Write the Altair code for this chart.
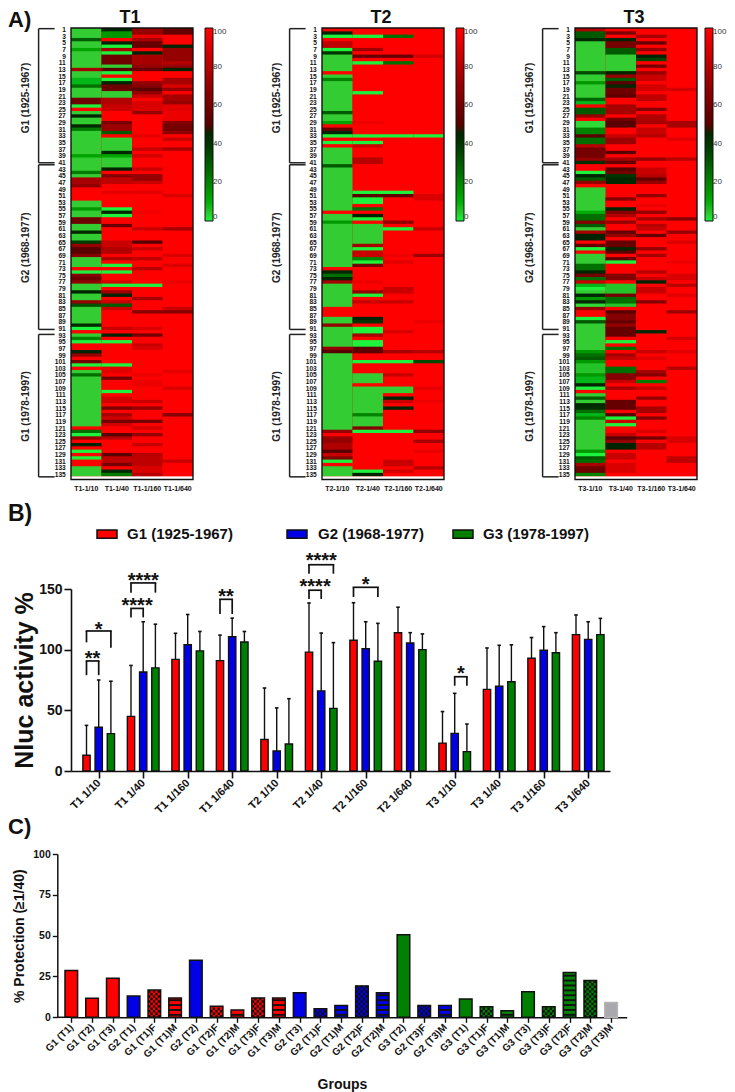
import altair as alt
import pandas as pd

FONT = "Liberation Sans"
RED, BLUE, GREEN = "#ff0000", "#0000e6", "#008000"

# ---------- panel A : (first row, value) runs, each lasting until the next run ----------
T1_10 = [(1,3),(4,30),(5,3),(7,12),(8,3),(13,75),(14,3),(16,8),(18,25),(19,3),(22,58),(24,0),(25,100),(26,3),(27,47),(28,3),(30,45),(31,22),(32,3),(39,12),(40,3),(44,22),(45,3),(46,75),(48,68),(49,100),(53,3),(55,15),(56,3),(58,58),(60,3),(62,45),(63,3),(65,38),(66,70),(67,50),(69,65),(70,3),(73,100),(74,0),(75,65),(76,58),(77,68),(78,3),(80,47),(81,3),(83,70),(84,32),(85,3),(90,45),(91,0),(92,100),(93,3),(94,20),(95,0),(96,100),(98,48),(99,70),(100,100),(101,60),(102,0),(103,100),(104,3),(105,25),(106,3),(121,100),(122,25),(123,0),(124,70),(125,100),(126,47),(127,100),(128,0),(129,100),(130,0),(131,100),(133,3)]
T1_40 = [(1,48),(2,15),(4,100),(5,48),(6,0),(7,75),(8,0),(9,58),(12,3),(13,50),(14,0),(15,100),(16,0),(17,47),(18,58),(20,3),(22,78),(24,85),(26,100),(29,62),(30,72),(32,30),(33,100),(34,3),(38,45),(39,12),(40,3),(43,48),(44,100),(45,65),(46,82),(48,100),(50,93),(51,100),(55,0),(56,45),(57,0),(58,100),(60,55),(61,100),(65,85),(67,78),(69,100),(70,78),(71,100),(72,0),(73,100),(74,0),(75,100),(77,88),(78,0),(79,100),(80,72),(81,48),(82,100),(83,85),(84,30),(85,85),(86,100),(91,85),(92,100),(93,48),(94,100),(95,0),(96,100),(102,0),(103,92),(105,100),(106,60),(107,100),(110,0),(111,100),(112,88),(114,100),(115,62),(116,100),(117,75),(118,88),(119,60),(120,88),(121,100),(123,50),(124,80),(125,100),(129,50),(130,82),(132,60),(133,100),(134,45),(135,22)]
T1_160 = [(1,70),(3,95),(4,75),(5,55),(7,100),(8,48),(9,75),(12,70),(13,55),(14,100),(17,70),(18,65),(19,50),(20,70),(21,85),(22,100),(23,90),(26,70),(27,100),(33,93),(34,100),(37,85),(38,100),(39,88),(40,100),(43,85),(44,100),(45,70),(47,85),(48,100),(50,92),(51,100),(56,97),(57,100),(61,85),(62,100),(65,50),(66,100),(67,85),(68,100),(70,82),(71,100),(73,80),(74,100),(78,0),(79,100),(82,75),(83,100),(86,65),(87,100),(91,90),(92,100),(93,60),(94,100),(96,85),(97,90),(98,100),(105,95),(106,100),(107,95),(109,100),(113,85),(114,100),(115,70),(116,100),(119,60),(120,100),(121,88),(122,100),(123,70),(124,100),(126,85),(127,100),(129,80),(130,82),(133,90),(135,80)]
T1_640 = [(1,55),(3,100),(6,48),(7,70),(11,80),(12,70),(13,48),(14,100),(16,75),(18,90),(19,70),(20,100),(21,75),(23,70),(24,92),(26,95),(29,65),(30,60),(32,68),(33,100),(34,85),(35,100),(37,75),(38,100),(51,90),(52,100),(61,75),(62,100),(69,90),(70,100),(72,90),(73,100),(77,95),(78,100),(85,85),(86,65),(87,100),(104,93),(105,100),(109,90),(110,100),(117,65),(118,100),(131,85),(132,100)]

T2_10 = [(1,100),(2,48),(3,0),(4,100),(5,82),(7,0),(8,40),(9,3),(14,100),(15,3),(16,20),(17,3),(26,30),(27,3),(29,12),(30,100),(31,55),(32,48),(33,0),(34,100),(35,0),(36,100),(37,3),(42,30),(43,3),(56,100),(57,3),(59,15),(60,3),(73,100),(74,45),(75,25),(76,45),(77,75),(78,3),(85,100),(88,3),(90,70),(91,3),(97,70),(98,50),(99,3),(122,70),(123,100),(124,70),(126,78),(128,50),(129,85),(130,65),(131,0),(132,100),(133,3)]
T2_40 = [(1,100),(3,0),(4,100),(7,72),(8,100),(9,55),(10,100),(11,0),(12,100),(20,0),(21,100),(29,95),(30,100),(33,0),(34,100),(35,0),(36,85),(37,100),(40,80),(42,100),(50,0),(51,52),(52,0),(54,100),(55,25),(56,100),(57,48),(58,0),(59,100),(60,3),(66,75),(67,0),(68,85),(69,85),(70,20),(71,0),(72,60),(73,100),(77,95),(78,100),(80,70),(81,0),(82,100),(83,85),(84,100),(88,48),(89,40),(90,100),(91,0),(93,75),(94,100),(95,0),(97,52),(99,100),(101,0),(102,100),(105,3),(108,100),(109,3),(117,20),(118,3),(121,65),(122,0),(123,100),(134,0),(135,48)]
T2_160 = [(1,100),(3,25),(4,100),(9,55),(10,100),(11,25),(12,100),(33,0),(34,100),(50,0),(51,52),(52,100),(59,68),(60,100),(61,0),(62,100),(69,95),(70,100),(71,92),(72,100),(79,85),(81,100),(83,85),(84,100),(92,90),(93,100),(98,75),(99,100),(101,0),(102,100),(105,85),(106,100),(109,3),(111,100),(112,48),(113,85),(114,100),(115,48),(116,100),(122,0),(123,100),(131,85),(133,100),(134,88),(135,100)]
T2_640 = [(1,100),(9,88),(10,100),(33,0),(34,100),(51,90),(53,100),(61,85),(62,100),(69,72),(70,100),(89,95),(90,100),(98,80),(99,100),(101,35),(102,100),(109,93),(110,100),(113,95),(114,100),(122,68),(123,100),(125,75),(126,100),(128,95),(129,100),(133,80),(134,100)]

T3_10 = [(1,80),(2,30),(4,45),(5,3),(14,35),(15,3),(17,15),(18,3),(22,28),(23,8),(24,100),(25,30),(27,70),(28,100),(29,2),(31,20),(33,50),(34,25),(36,80),(37,60),(40,70),(41,42),(42,100),(44,0),(45,48),(46,30),(47,70),(48,100),(49,3),(56,10),(57,25),(59,65),(60,30),(61,3),(62,75),(63,48),(65,100),(66,55),(67,0),(68,100),(69,3),(72,25),(74,48),(75,60),(76,25),(77,85),(78,8),(79,0),(80,3),(81,48),(82,15),(83,45),(84,2),(85,70),(86,100),(88,0),(89,30),(90,3),(98,15),(99,25),(100,30),(101,15),(102,5),(105,15),(106,8),(108,48),(109,0),(110,100),(111,3),(112,30),(113,3),(114,45),(115,42),(116,25),(117,8),(118,20),(119,3),(128,15),(129,0),(130,30),(131,25),(132,75),(133,58),(135,20)]
T3_40 = [(1,100),(2,62),(3,100),(4,48),(5,60),(7,30),(9,3),(14,48),(15,70),(16,30),(17,50),(18,45),(19,58),(21,52),(22,100),(24,75),(27,100),(28,60),(29,50),(31,100),(33,85),(34,72),(36,100),(38,50),(39,100),(40,75),(41,55),(42,100),(43,50),(44,60),(45,40),(46,45),(48,100),(52,65),(53,100),(55,48),(56,65),(57,78),(58,100),(59,70),(60,100),(62,55),(63,70),(64,100),(65,55),(67,45),(68,50),(69,100),(70,55),(71,0),(72,100),(75,65),(77,100),(78,5),(81,60),(82,25),(84,5),(85,100),(86,50),(87,65),(89,55),(90,70),(91,55),(94,100),(95,0),(96,100),(97,25),(98,100),(99,75),(100,85),(101,100),(103,25),(105,65),(107,85),(108,100),(109,75),(110,100),(113,55),(116,100),(117,50),(118,0),(119,85),(120,0),(121,100),(123,85),(124,50),(125,70),(126,48),(128,100),(129,85),(131,100),(132,90),(135,100)]
T3_160 = [(1,100),(3,75),(4,100),(5,55),(6,100),(7,70),(8,100),(9,48),(10,35),(11,100),(12,60),(13,100),(14,70),(15,85),(17,100),(18,88),(20,100),(21,82),(23,100),(25,65),(26,100),(27,78),(29,75),(30,100),(31,85),(33,80),(34,100),(40,70),(41,100),(43,85),(45,80),(46,55),(47,70),(48,100),(51,70),(52,100),(54,95),(55,100),(56,70),(57,100),(58,75),(59,100),(60,80),(61,85),(62,100),(63,55),(64,100),(67,70),(68,100),(69,75),(70,100),(74,80),(75,100),(76,85),(77,48),(78,100),(79,85),(81,100),(83,65),(84,100),(92,45),(93,100),(98,85),(99,100),(100,92),(101,100),(104,75),(105,65),(106,100),(107,22),(108,100),(109,85),(110,100),(112,70),(113,100),(115,75),(117,100),(118,65),(119,100),(122,90),(123,100),(124,60),(125,100),(126,80),(128,100)]
T3_640 = [(1,100),(19,88),(20,100),(29,75),(31,100),(34,92),(35,100),(40,80),(41,100),(58,65),(59,100),(62,70),(63,100),(65,90),(66,100),(71,95),(72,100),(75,90),(77,100),(78,80),(79,100),(81,92),(82,100),(86,72),(87,100),(94,88),(95,100),(98,92),(99,100),(103,80),(104,100),(124,90),(126,100),(130,82),(132,100)]

PANELS = {"T1": [T1_10, T1_40, T1_160, T1_640],
          "T2": [T2_10, T2_40, T2_160, T2_640],
          "T3": [T3_10, T3_40, T3_160, T3_640]}
DILUTIONS = ["1/10", "1/40", "1/160", "1/640"]
BRACKET_ROWS = [("G1 (1925-1967)", 0.7, 41.1, 21.6),
                ("G2 (1968-1977)", 41.7, 91.3, 66.7),
                ("G1 (1978-1997)", 92.8, 135.7, 114.5)]

# ---------- panel B ----------
B_LABELS = ["T1 1/10","T1 1/40","T1 1/160","T1 1/640","T2 1/10","T2 1/40","T2 1/160","T2 1/640","T3 1/10","T3 1/40","T3 1/160","T3 1/640"]
GROUPS = ["G1 (1925-1967)", "G2 (1968-1977)", "G3 (1978-1997)"]
G1_MEAN = [13,45,92,91,26,98,107.7,114,23,67.3,92.9,112.4]
G1_TOP  = [37.6,87,113.5,112,68.4,138.5,138.7,135,49,101.4,110,128.6]
G2_MEAN = [36,81.6,104,110.7,16.5,66,100.8,105.5,31,69.8,99.5,108.5]
G2_TOP  = [75,123,129,126,52,113.7,123,114,64,103.6,119,123]
G3_MEAN = [30.8,85,99,106.3,22.3,51.6,90.4,100,16,73.6,97.5,112.4]
G3_TOP  = [74,121,115,115,59.6,105.8,121.7,113,38.7,104,114,125.8]
# group index, first bar, last bar, top, left foot, right foot, stars, star height
SIG = [(0,0,1,90.7,79,79,"**",95.6),
       (0,0,2,115.4,106,101.6,"*",119.5),
       (1,0,1,134,126.6,126.6,"****",139),
       (1,0,2,155,147,147,"****",160),
       (3,0,1,141.5,129.4,129.4,"**",147),
       (5,0,1,149,141.8,141.8,"****",154.7),
       (5,0,2,170,162.6,162.6,"****",176),
       (6,0,2,151.4,143.4,143.4,"*",156.6),
       (8,1,2,77.7,70.3,70.3,"*",83)]

# ---------- panel C ----------
C_LABELS = ["G1 (T1)","G1 (T2)","G1 (T3)","G2 (T1)","G1 (T1)F","G1 (T1)M","G2 (T2)","G1 (T2)F","G1 (T2)M","G1 (T3)F","G1 (T3)M","G2 (T3)","G2 (T1)F","G2 (T1)M","G2 (T2)F","G2 (T2)M","G3 (T2)","G2 (T3)F","G2 (T3)M","G3 (T1)","G3 (T1)F","G3 (T1)M","G3 (T3)","G3 (T3)F","G3 (T2)F","G3 (T2)M","G3 (T3)M"]
C_VALUES = [28.6,11.6,23.9,13,16.7,11.8,34.9,6.7,4.5,11.8,11.8,15.1,5.3,7.3,19.2,15.1,50.6,7.3,7.3,11.2,6.5,4,15.7,6.5,27.5,22.6,9]
C_FILL = ["r","r","r","b","r","r","b","r","r","r","r","b","b","b","b","b","g","b","b","g","g","g","g","g","g","g","x"]
C_PATTERN = ["","","","","c","s","","c","s","c","s","","c","s","c","s","","c","s","","c","s","","c","s","c",""]

W, H = 122, 451.5
YSCALE = alt.Scale(domain=[0.5, 136.5], reverse=True, nice=False, zero=False)
HEAT_COLORS = alt.Scale(domain=[0, 3, 50, 100], range=["#1df23c", "#33cc33", "#000000", "#ff0000"])
AX_HEAT_Y = alt.Axis(title=None, values=list(range(1, 136, 2)), format="d", ticks=False, domain=False,
                     grid=False, labelFontSize=6.6, labelFontWeight="bold", labelFont=FONT,
                     labelPadding=5.7, labelOverlap=False, labelColor="#111", labelBound=False)
ONE = pd.DataFrame({"a": [0]})

def txt(text, size, **kw):
    return alt.Chart(pd.DataFrame({"t": [text]})).mark_text(
        text=text, fontSize=size, fontWeight="bold", font=FONT, color="#111", **kw)

def heat(name, letter=None, pad_left=None, bar_gap=11.5):
    rows = []
    for dil, runs in zip(DILUTIONS, PANELS[name]):
        for i, (start, val) in enumerate(runs):
            last = i + 1 == len(runs)
            end = 136 if last else runs[i + 1][0]
            rows.append({"dil": f"{name}-{dil}", "r0": start - 0.5, "r1": end - 0.5 + (0 if last else 0.2), "v": val})
    df = pd.DataFrame(rows)
    dom = [f"{name}-{d}" for d in DILUTIONS]
    under = alt.Chart(ONE).mark_rect(fill="#ff0000").encode(
        x=alt.value(0), x2=alt.value(W), y=alt.value(0), y2=alt.value(H * 135 / 136))
    rect = alt.Chart(df).mark_rect().encode(
        x=alt.X("dil:N", sort=None, scale=alt.Scale(domain=dom, paddingInner=0, paddingOuter=0),
                axis=alt.Axis(title=None, labelAngle=0, ticks=False, domain=False, labelFontSize=7,
                              labelFontWeight="bold", labelFont=FONT, labelPadding=5, labelOverlap=False,
                              labelColor="#111")),
        y=alt.Y("r0:Q", scale=YSCALE, axis=AX_HEAT_Y),
        y2="r1:Q",
        color=alt.Color("v:Q", scale=HEAT_COLORS,
                        legend=alt.Legend(title=None, values=[0, 20, 40, 60, 80, 100], gradientLength=193,
                                          gradientThickness=8, gradientStrokeColor="#111", gradientStrokeWidth=1,
                                          labelFontSize=8, labelColor="#333", labelFont=FONT, offset=bar_gap,
                                          labelOffset=0)),
        order=alt.Order("r0:Q"),
    )
    frame = alt.Chart(ONE).mark_rect(filled=False, stroke="#111", strokeWidth=1.4).encode(
        x=alt.value(0), x2=alt.value(W), y=alt.value(0), y2=alt.value(H))
    br = pd.DataFrame(BRACKET_ROWS, columns=["label", "a", "b", "mid"])
    ends = pd.DataFrame({"r": list(br["a"]) + list(br["b"])})
    v = alt.Chart(br).mark_rule(color="#222", strokeWidth=1.5).encode(
        x=alt.value(-32.4), y=alt.Y("a:Q", scale=YSCALE, axis=AX_HEAT_Y), y2="b:Q")
    h = alt.Chart(ends).mark_rule(color="#222", strokeWidth=1.5).encode(
        x=alt.value(-32.4), x2=alt.value(-16.4), y=alt.Y("r:Q", scale=YSCALE, axis=AX_HEAT_Y))
    lab = alt.Chart(br).mark_text(angle=270, fontSize=10, fontWeight="bold", font=FONT, color="#222").encode(
        x=alt.value(-45), y=alt.Y("mid:Q", scale=YSCALE, axis=AX_HEAT_Y), text="label:N")
    title = txt(name, 18, align="center", baseline="alphabetic").encode(x=alt.value(W / 2 - 2), y=alt.value(-5.4))
    layers = [under, rect, frame, v, h, lab, title]
    if letter:
        layers.append(txt(letter, 22, align="left", baseline="alphabetic").encode(x=alt.value(-63), y=alt.value(-1.4)))
    if pad_left:
        layers.append(alt.Chart(ONE).mark_rule(opacity=0).encode(
            x=alt.value(-pad_left), y=alt.value(0), y2=alt.value(5)))
    return alt.layer(*layers).properties(width=W, height=H).resolve_scale(color="independent")

# ---------- bars B ----------
STEP_B = 44.5
bar_off = 12.2 / STEP_B
bar_half = 3.65 / STEP_B
rows = []
for g, means, tops in zip(GROUPS, [G1_MEAN, G2_MEAN, G3_MEAN], [G1_TOP, G2_TOP, G3_TOP]):
    k = GROUPS.index(g)
    for i in range(12):
        c = i + (k - 1) * bar_off
        rows.append({"g": g, "c": c, "lo": c - bar_half, "hi": c + bar_half, "capl": c - 0.04, "capr": c + 0.04,
                     "m": means[i], "t": tops[i], "z": 0})
dfb = pd.DataFrame(rows)
XB = alt.Scale(domain=[-27.7 / STEP_B, (539 - 27.7) / STEP_B], nice=False, zero=False)
YB = alt.Scale(domain=[0, 150], nice=False)
xb_expr = "[" + ",".join(f"'{s}'" for s in B_LABELS) + "][datum.value]"
AX_BX = alt.Axis(title=None, values=list(range(12)), labelExpr=xb_expr, labelAngle=315,
                 labelAlign="right", labelBaseline="middle", labelFontSize=11,
                 labelFontWeight="bold", labelFont=FONT, labelColor="#111", grid=False,
                 tickSize=7, tickWidth=1.6, tickColor="#111", domainWidth=1.6,
                 domainColor="#111", labelOverlap=False, labelFlush=False, labelPadding=3)
AX_BY = alt.Axis(title="Nluc activity %", values=[0, 50, 100, 150], grid=False, titleFontSize=25,
                 titleFontWeight="bold", titleFont=FONT, titleColor="#111", titlePadding=1, labelFontSize=14,
                 labelFontWeight="bold", labelFont=FONT, labelColor="#111", tickSize=7, tickWidth=1.6,
                 tickColor="#111", domainWidth=1.6, domainColor="#111")
bars = alt.Chart(dfb).mark_rect(stroke="#111", strokeWidth=1.4).encode(
    x=alt.X("lo:Q", scale=XB, axis=AX_BX),
    x2="hi:Q",
    y=alt.Y("z:Q", scale=YB, axis=AX_BY),
    y2="m:Q",
    fill=alt.Fill("g:N", scale=alt.Scale(domain=GROUPS, range=[RED, BLUE, GREEN]), legend=None),
)
err = alt.Chart(dfb).mark_rule(color="#111", strokeWidth=1.4).encode(
    x=alt.X("c:Q", scale=XB, axis=AX_BX), y=alt.Y("m:Q", scale=YB, axis=AX_BY), y2="t:Q")
cap = alt.Chart(dfb).mark_rule(color="#111", strokeWidth=1.6).encode(
    x=alt.X("capl:Q", scale=XB, axis=AX_BX), x2="capr:Q", y=alt.Y("t:Q", scale=YB, axis=AX_BY))

sig_rows = []
for grp, a, b, top, fl, fr, stars, sy in SIG:
    xa = grp + (a - 1) * bar_off
    xb = grp + (b - 1) * bar_off
    sig_rows.append({"xa": xa, "xb": xb, "top": top, "fl": fl, "fr": fr, "s": stars, "sy": sy, "mid": (xa + xb) / 2})
dfs = pd.DataFrame(sig_rows)
sig_top = alt.Chart(dfs).mark_rule(color="#111", strokeWidth=1.7, strokeCap="square").encode(
    x=alt.X("xa:Q", scale=XB, axis=AX_BX), x2="xb:Q", y=alt.Y("top:Q", scale=YB, axis=AX_BY))
sig_l = alt.Chart(dfs).mark_rule(color="#111", strokeWidth=1.7).encode(
    x=alt.X("xa:Q", scale=XB, axis=AX_BX), y=alt.Y("top:Q", scale=YB, axis=AX_BY), y2="fl:Q")
sig_r = alt.Chart(dfs).mark_rule(color="#111", strokeWidth=1.7).encode(
    x=alt.X("xb:Q", scale=XB, axis=AX_BX), y=alt.Y("top:Q", scale=YB, axis=AX_BY), y2="fr:Q")
sig_t = alt.Chart(dfs).mark_text(fontSize=20, fontWeight="bold", font=FONT, color="#111", baseline="alphabetic", dy=10).encode(
    x=alt.X("mid:Q", scale=XB, axis=AX_BX), y=alt.Y("sy:Q", scale=YB, axis=AX_BY), text="s:N")
let_b = txt("B)", 23, align="left", baseline="alphabetic").encode(x=alt.value(-63), y=alt.value(-68))
let_c = txt("C)", 22, align="left", baseline="alphabetic").encode(x=alt.value(-63), y=alt.value(245))

# swatch-and-label key above the bars
key_layers = []
for name, col, sx, tx in zip(GROUPS, [RED, BLUE, GREEN], [26, 216, 382], [56, 247, 412]):
    key_layers.append(alt.Chart(ONE).mark_rect(fill=col, stroke="#111", strokeWidth=1.5).encode(
        x=alt.value(sx), x2=alt.value(sx + 20), y=alt.value(-59), y2=alt.value(-50.7)))
    key_layers.append(txt(name, 15, align="left", baseline="middle").encode(x=alt.value(tx), y=alt.value(-55)))
chart_b = alt.layer(bars, err, cap, sig_top, sig_l, sig_r, sig_t, let_b, let_c, *key_layers).properties(width=539, height=182)

# ---------- bars C ----------
STEP_C = 20.76
half_c = 6.3 / STEP_C
colmap = {"r": RED, "b": BLUE, "g": GREEN, "x": "#a9a9ad"}
dfc = pd.DataFrame({"p": list(range(1, 28)), "v": C_VALUES})
dfc["lo"] = dfc["p"] - half_c
dfc["hi"] = dfc["p"] + half_c
dfc["z"] = 0
dfc["fill"] = [colmap[c] for c in C_FILL]
dfc["stroke"] = ["#b5b5b8" if c == "x" else "#111" for c in C_FILL]
XC = alt.Scale(domain=[1 - 0.3 / STEP_C, 1 + (555.7 - 0.3) / STEP_C], nice=False, zero=False)
YC = alt.Scale(domain=[0, 100], nice=False)
xc_expr = "[" + ",".join(f"'{s}'" for s in C_LABELS) + "][datum.value-1]"
AX_CX = alt.Axis(title="Groups", titleFontSize=14, titleFontWeight="bold", titleFont=FONT,
                 titleColor="#111", titlePadding=18, titleX=271, values=list(range(1, 28)),
                 labelExpr=xc_expr, labelAngle=315, labelAlign="right",
                 labelBaseline="middle", labelFontSize=10, labelFontWeight="bold",
                 labelFont=FONT, labelColor="#111", grid=False, tickSize=5, tickWidth=1.4,
                 tickColor="#111", domainWidth=1.5, domainColor="#111", labelOverlap=False,
                 labelFlush=False, labelPadding=3)
AX_CY = alt.Axis(title="% Protection (\u22651/40)", values=[0, 25, 50, 75, 100], grid=False, offset=13.7,
                 titleFontSize=14, titleFontWeight="bold", titleFont=FONT, titleColor="#111",
                 titlePadding=6, labelFontSize=10.5, labelFontWeight="bold", labelFont=FONT,
                 labelColor="#111", tickSize=5, tickWidth=1.4, tickColor="#111",
                 domainWidth=1.5, domainColor="#111")
base_c = alt.Chart(ONE).mark_rule(color="#111", strokeWidth=1.5).encode(
    x=alt.value(-13.7), x2=alt.value(0), y=alt.value(163.3))
bars_c = alt.Chart(dfc).mark_rect().encode(
    x=alt.X("lo:Q", scale=XC, axis=AX_CX),
    x2="hi:Q",
    y=alt.Y("z:Q", scale=YC, axis=AX_CY),
    y2="v:Q",
    fill=alt.Fill("fill:N", scale=None),
    stroke=alt.Stroke("stroke:N", scale=None),
    strokeWidth=alt.value(1.5),
)
stripes, chk0, chk1 = [], [], []
for p, v, pat in zip(dfc["p"], C_VALUES, C_PATTERN):
    if pat == "s":
        y = 1.5
        while y < v - 1:
            stripes.append({"lo": p - half_c, "hi": p + half_c, "y": y})
            y += 3
    elif pat == "c":
        y, i = 0.7, 0
        while y < v - 0.3:
            (chk0 if i % 2 == 0 else chk1).append({"lo": p - half_c, "hi": p + half_c, "y": y})
            y += 1.5
            i += 1
st_layer = alt.Chart(pd.DataFrame(stripes)).mark_rule(color="#111", strokeWidth=1.9).encode(
    x=alt.X("lo:Q", scale=XC, axis=AX_CX), x2="hi:Q", y=alt.Y("y:Q", scale=YC, axis=AX_CY))
c0 = alt.Chart(pd.DataFrame(chk0)).mark_rule(color="#111", strokeWidth=2.4, strokeDash=[2.4, 2.4]).encode(
    x=alt.X("lo:Q", scale=XC, axis=AX_CX), x2="hi:Q", y=alt.Y("y:Q", scale=YC, axis=AX_CY))
c1 = alt.Chart(pd.DataFrame(chk1)).mark_rule(color="#111", strokeWidth=2.4, strokeDash=[2.4, 2.4], strokeDashOffset=2.4).encode(
    x=alt.X("lo:Q", scale=XC, axis=AX_CX), x2="hi:Q", y=alt.Y("y:Q", scale=YC, axis=AX_CY))
chart_c = alt.layer(bars_c, base_c, st_layer, c0, c1).properties(width=555.7, height=163.3)

row1 = alt.hconcat(heat("T1", "A)"), heat("T2"), heat("T3", pad_left=52.4, bar_gap=7.5), spacing=44)
chart = alt.vconcat(row1, chart_b, chart_c, spacing=11).resolve_scale(color="independent", fill="independent").configure(font=FONT).configure_view(stroke=None).properties(padding=0, background="white")
chart.save("out.html", embed_options={"renderer": "svg", "actions": False})
